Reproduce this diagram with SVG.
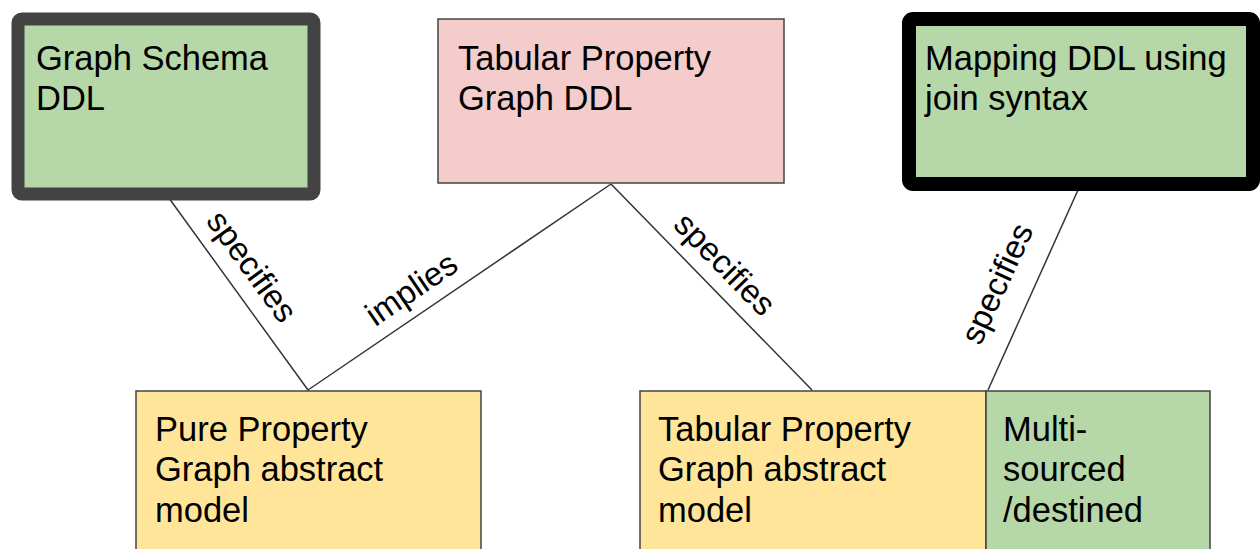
<svg xmlns="http://www.w3.org/2000/svg" width="1260" height="549" viewBox="0 0 1260 549">
<style>
.t{font-family:"Liberation Sans",Arial,sans-serif;font-size:34.5px;fill:#000}
.l{font-family:"Liberation Sans",Arial,sans-serif;font-size:33px;fill:#000}
.thin{stroke:#434343;stroke-width:1.5}
.conn{stroke:#333;stroke-width:1.5;fill:none}
</style>
<rect width="1260" height="549" fill="#fff"/>
<g id="connectors">
<line class="conn" x1="166" y1="194" x2="308" y2="390"/>
<line class="conn" x1="611" y1="184" x2="308" y2="390"/>
<line class="conn" x1="611" y1="184" x2="812" y2="390"/>
<line class="conn" x1="1078" y1="190" x2="988" y2="390"/>
<text class="l" text-anchor="middle" transform="translate(251,267) rotate(54)" y="10">specifies</text>
<text class="l" text-anchor="middle" transform="translate(412,290) rotate(-34.3)" y="10">implies</text>
<text class="l" text-anchor="middle" transform="translate(724,265) rotate(45.7)" y="10">specifies</text>
<text class="l" text-anchor="middle" transform="translate(998,284) rotate(-65.2)" y="10">specifies</text>
</g>
<g id="graph-schema-ddl">
<rect x="18" y="19" width="296" height="175" rx="4" fill="#b6d7a8" stroke="#434343" stroke-width="13"/>
<text class="t" x="36" y="70">Graph Schema</text>
<text class="t" x="36" y="110">DDL</text>
</g>
<g id="tabular-pg-ddl">
<rect class="thin" x="438" y="19" width="346" height="164" fill="#f4cccc"/>
<text class="t" x="458" y="70">Tabular Property</text>
<text class="t" x="458" y="110">Graph DDL</text>
</g>
<g id="mapping-ddl">
<rect x="909" y="19" width="344" height="165" rx="4" fill="#b6d7a8" stroke="#000" stroke-width="14"/>
<text class="t" x="925" y="70">Mapping DDL using</text>
<text class="t" x="925" y="110">join syntax</text>
</g>
<g id="pure-pg-model">
<rect class="thin" x="136" y="391" width="345" height="170" fill="#ffe599"/>
<text class="t" x="155" y="441">Pure Property</text>
<text class="t" x="155" y="481">Graph abstract</text>
<text class="t" x="155" y="522">model</text>
</g>
<g id="tabular-pg-model">
<rect class="thin" x="640" y="391" width="346" height="170" fill="#ffe599"/>
<text class="t" x="658" y="441">Tabular Property</text>
<text class="t" x="658" y="481">Graph abstract</text>
<text class="t" x="658" y="522">model</text>
</g>
<g id="multi-sourced">
<rect class="thin" x="986" y="391" width="224" height="170" fill="#b6d7a8"/>
<text class="t" x="1003" y="441">Multi-</text>
<text class="t" x="1003" y="481">sourced</text>
<text class="t" x="1003" y="522">/destined</text>
</g>
</svg>
